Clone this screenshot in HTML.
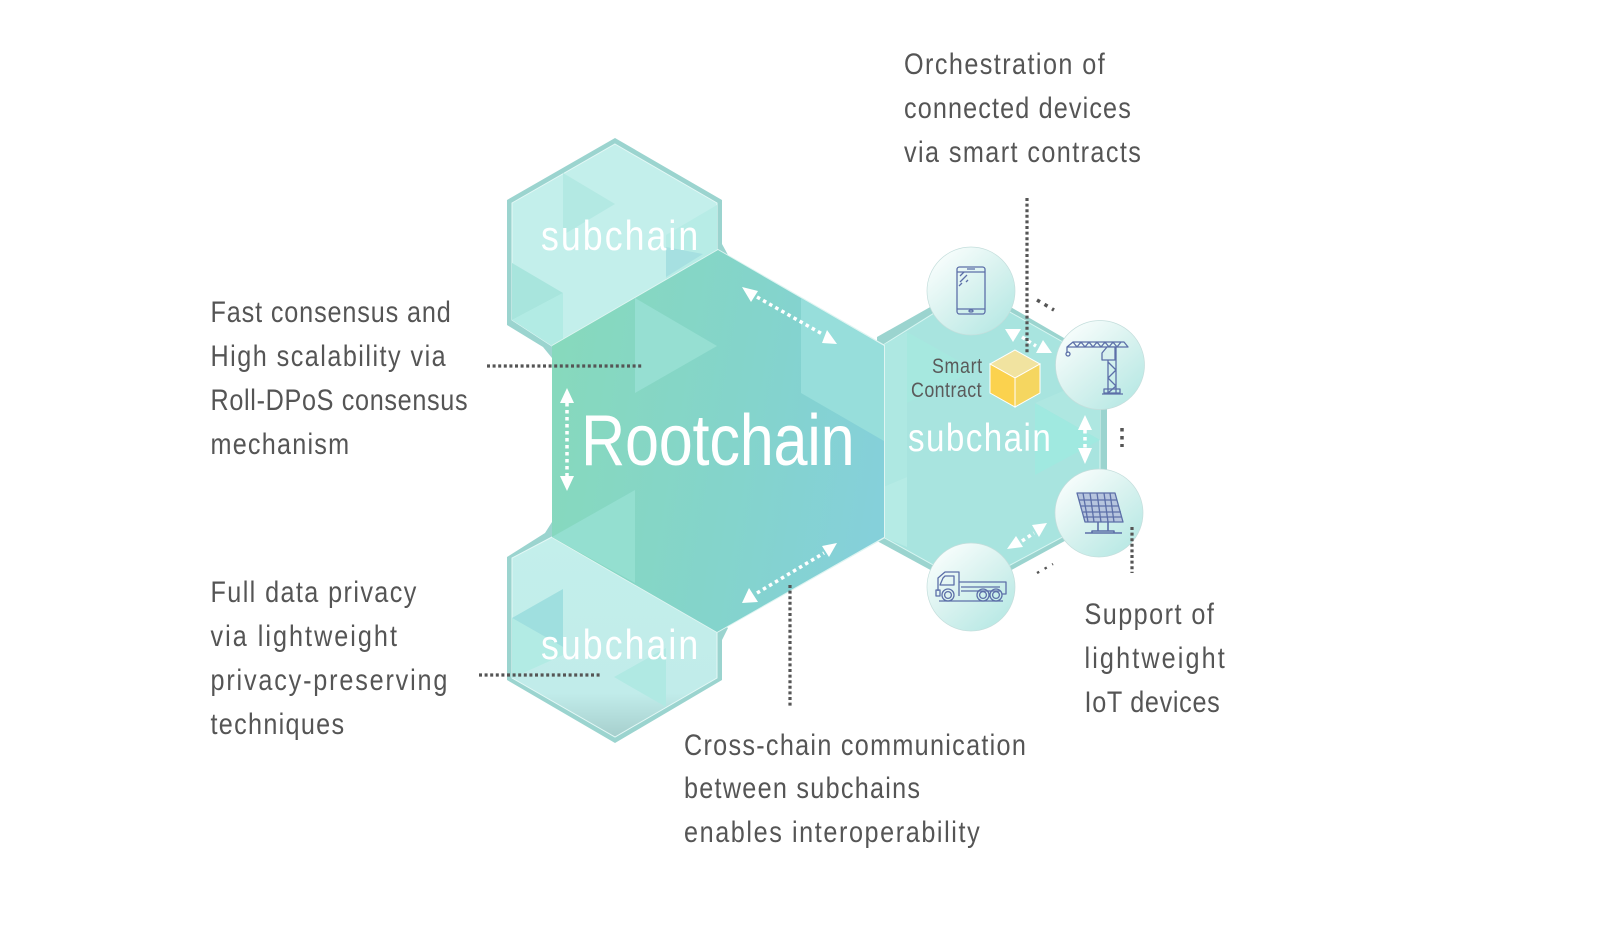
<!DOCTYPE html>
<html><head><meta charset="utf-8"><title>Rootchain diagram</title>
<style>
html,body{margin:0;padding:0;background:#fff}
svg{display:block}
text{font-family:"Liberation Sans",sans-serif}
.t{font-size:30px;fill:#555}
.w{fill:#fff}
.d{fill:none;stroke:#555;stroke-width:3.2;stroke-dasharray:3 2.6}
.a{fill:none;stroke:#fff;stroke-width:3.5;stroke-dasharray:3.5 3.5}
.i{fill:none;stroke:#5c6fa8;stroke-width:1.3;stroke-linejoin:round}
</style></head><body>
<svg width="1600" height="941" viewBox="0 0 1600 941" xmlns="http://www.w3.org/2000/svg">
<defs>
<linearGradient id="root" x1="0" y1="0.4" x2="1" y2="0.6"><stop offset="0" stop-color="#87d9bd"/><stop offset="0.55" stop-color="#84d4cb"/><stop offset="1" stop-color="#85d0da"/></linearGradient>
<linearGradient id="circ" x1="0.15" y1="0.1" x2="0.85" y2="0.9"><stop offset="0" stop-color="#f7fdfc"/><stop offset="0.5" stop-color="#d8f2ef"/><stop offset="1" stop-color="#b9e9e5"/></linearGradient>
<linearGradient id="shade" x1="0" y1="0" x2="0" y2="1"><stop offset="0" stop-color="#c3efeb"/><stop offset="0.78" stop-color="#c1ecea"/><stop offset="1" stop-color="#a6cfcd"/></linearGradient>
</defs>

<!-- top subchain -->
<polygon points="615,138 722,200 722,244 728,255 560,349 552,358 543,347 507,325 507,200" fill="#9bd4cf"/>
<polygon points="615,144 717,203 717,250 552,346 512,320 512,203" fill="#c3efeb" stroke="#e4f8f6" stroke-width="1"/>
<polygon points="563,173 615,204 563,235" fill="#b3e9e3"/>
<polygon points="512,263 563,293 512,320" fill="#a8e5dd"/>
<polygon points="512,320 563,293 563,340 552,346" fill="#b2ebe4"/>
<polygon points="666,235 717,205 717,250 666,279" fill="#b7ece6"/>
<polygon points="666,247 703,254 666,277" fill="#a6e0e1"/>

<!-- bottom subchain -->
<polygon points="552,522 545,533 507,557 507,680 615,743 722,680 722,640 728,628 717,620 560,525" fill="#9bd4cf"/>
<polygon points="552,537 717,632 717,678 615,737 512,678 512,558" fill="url(#shade)" stroke="#e4f8f6" stroke-width="1"/>
<polygon points="563,589 512,618 563,647" fill="#9fdfdf"/>
<polygon points="512,618 563,647 563,655 512,678" fill="#b2ebe4"/>
<polygon points="614,677 666,648 666,707" fill="#b0e9e3"/>

<!-- right subchain -->
<polygon points="971,284 1107,363 1107,518 971,592 877,541 877,337" fill="#9bd4cf"/>
<polygon points="971,290 1100,363 1100,517 971,586 883,537 883,345" fill="#a8e4df" stroke="#d8f6f2" stroke-width="1"/>
<polygon points="907,332 975,370 907,403" fill="#a6e8df"/>
<polygon points="883,345 907,332 907,477 883,487" fill="#aee8e2"/>
<polygon points="883,487 907,477 907,547 883,537" fill="#b5ebe5"/>
<polygon points="1035,403 1070,388 1100,405 1100,440" fill="#aee7e1"/>
<polygon points="1035,403 1100,440 1035,475" fill="#a0e9e0"/>

<!-- rootchain -->
<polygon points="718,249 885,345 885,538 717,633 552,538 552,345" fill="#dff5f2"/>
<polygon points="718,250 884,346 884,537 717,632 552,537 552,346" fill="url(#root)"/>
<polygon points="635,298 717,346 635,393" fill="#96dfd2"/>
<polygon points="801,298 884,346 884,441 801,393" fill="#97dedb"/>
<polygon points="635,490 635,583 552,537" fill="#94dfd0"/>

<!-- labels inside -->
<text class="w" transform="translate(581,465) scale(.85,1)" font-size="72" textLength="322" lengthAdjust="spacing">Rootchain</text>
<text class="w" transform="translate(541,250) scale(.85,1)" font-size="42" textLength="185" lengthAdjust="spacing">subchain</text>
<text class="w" transform="translate(541,659) scale(.85,1)" font-size="42" textLength="185" lengthAdjust="spacing">subchain</text>
<text class="w" transform="translate(908,451) scale(.85,1)" font-size="39" textLength="168" lengthAdjust="spacing">subchain</text>
<text transform="translate(932,373) scale(.85,1)" font-size="21" fill="#5a5a5a" textLength="59" lengthAdjust="spacing">Smart</text>
<text transform="translate(911,397) scale(.85,1)" font-size="21" fill="#5a5a5a" textLength="83" lengthAdjust="spacing">Contract</text>

<!-- cube -->
<polygon points="1015,350 1040,364 1015,378 990,364" fill="#f1e3a0" stroke="#fff" stroke-width="1"/>
<polygon points="990,364 1015,378 1015,407 990,393" fill="#fbd24e" stroke="#fff" stroke-width="1"/>
<polygon points="1040,364 1015,378 1015,407 1040,393" fill="#f5d660" stroke="#fff" stroke-width="1"/>

<!-- circles -->
<g fill="url(#circ)" stroke="#c4dedc" stroke-width="0.7">
<circle cx="971" cy="291" r="44"/><circle cx="1100" cy="365" r="44.5"/><circle cx="1099" cy="513" r="44"/><circle cx="971" cy="587" r="44"/>
</g>

<!-- phone -->
<g class="i">
<rect x="957" y="267" width="28" height="47" rx="2.5"/>
<path d="M957 272H985M957 309H985M967 269H975"/>
<ellipse cx="971" cy="311" rx="2" ry="1"/>
<path d="M960 276l4-4M960 282l7-7M966 282l2-2M959 286l3-3"/>
</g>
<!-- crane -->
<g class="i">
<path d="M1067 353V347H1128L1124 342H1073L1067 347M1073 342l4 5 4-5 4 5 4-5 4 5 4-5 4 5 4-5 4 5 4-5 4 5 4-5"/>
<circle cx="1068" cy="354" r="2"/>
<path d="M1108 360V393M1116 347V393M1108 362l8 8-8 8 8 8-8 7"/>
<path d="M1102 353L1107 347H1115V360H1102Z" fill="#d8f0ee"/>
<path d="M1104 389H1120V393H1104ZM1102 394H1123"/>
</g>
<!-- solar -->
<g class="i">
<path d="M1077 493H1115L1123 522H1085Z" fill="#b6c5de"/>
<path d="M1079 500H1117M1081 506H1119M1083 512H1121M1084 517H1122M1083 493l5 29M1090 493l4 29M1097 493l4 29M1104 493l4 29M1110 493l4 29"/>
<path d="M1098 522V531M1108 522V531M1092 531H1114V533H1092ZM1085 533H1122" stroke-width="1.6"/>
</g>
<!-- truck -->
<g class="i" stroke-width="1.4">
<path d="M938 591V578L945 572H959V596M959 582H1006V594H1002M961 587H1000M961 591H1000"/>
<path d="M943 578L940 585H954V576H945Z"/>
<rect x="936" y="590" width="4" height="6"/>
<circle cx="948" cy="595" r="6"/><circle cx="948" cy="595" r="3.4"/>
<circle cx="983" cy="595" r="6"/><circle cx="983" cy="595" r="3.4"/>
<circle cx="996" cy="595" r="6"/><circle cx="996" cy="595" r="3.4"/>
<path d="M939 601H1003"/>
</g>

<!-- white arrows -->
<g fill="#fff">
<polygon points="742,287 758,291 751,302"/><polygon points="837,344 827,330 822,343"/>
<polygon points="742,603 758,602 749,588"/><polygon points="837,543 822,546 829,557"/>
<polygon points="567,388 560,403 574,403"/><polygon points="567,491 560,476 574,476"/>
<polygon points="1085,415 1078,430 1092,430"/><polygon points="1085,464 1078,448 1092,448"/>
<polygon points="1005,329 1021,329 1013,342"/><polygon points="1036,353 1052,353 1043,340"/>
<polygon points="1007,549 1023,547 1016,536"/><polygon points="1047,523 1032,525 1039,537"/>
</g>
<path class="a" d="M757 297L824 335M757 593L824 553M567 403V476M1085 430V448M1022 337L1036 346M1022 541L1034 533"/>

<!-- dotted lines -->
<path class="d" d="M487 366H643M479 675H602M790 585V707M1027 198V353M1132 527V573"/>
<path class="d" style="stroke-width:3.5;stroke-dasharray:3.5 4.5" d="M1122 428V447"/>
<path class="d" style="stroke-width:3.5;stroke-dasharray:3.5 5.2" d="M1037 300L1054 310"/>
<path class="d" style="stroke-width:2.4;stroke-dasharray:2.5 6.2" d="M1037 573L1053 564"/>

<!-- text -->
<text class="t" transform="translate(210.5,322) scale(.84,1)" textLength="286" lengthAdjust="spacing">Fast consensus and</text>
<text class="t" transform="translate(210.5,366) scale(.84,1)" textLength="280" lengthAdjust="spacing">High scalability via</text>
<text class="t" transform="translate(210.5,410) scale(.84,1)" textLength="306" lengthAdjust="spacing">Roll-DPoS consensus</text>
<text class="t" transform="translate(210.5,454) scale(.84,1)" textLength="165" lengthAdjust="spacing">mechanism</text>

<text class="t" transform="translate(210.5,602) scale(.84,1)" textLength="245" lengthAdjust="spacing">Full data privacy</text>
<text class="t" transform="translate(210.5,646) scale(.84,1)" textLength="222" lengthAdjust="spacing">via lightweight</text>
<text class="t" transform="translate(210.5,690) scale(.84,1)" textLength="282" lengthAdjust="spacing">privacy-preserving</text>
<text class="t" transform="translate(210.5,734) scale(.84,1)" textLength="159" lengthAdjust="spacing">techniques</text>

<text class="t" transform="translate(904,74) scale(.84,1)" textLength="239" lengthAdjust="spacing">Orchestration of</text>
<text class="t" transform="translate(904,118) scale(.84,1)" textLength="270" lengthAdjust="spacing">connected devices</text>
<text class="t" transform="translate(904,162) scale(.84,1)" textLength="282" lengthAdjust="spacing">via smart contracts</text>

<text class="t" transform="translate(684,755) scale(.84,1)" textLength="407" lengthAdjust="spacing">Cross-chain communication</text>
<text class="t" transform="translate(684,798) scale(.84,1)" textLength="281" lengthAdjust="spacing">between subchains</text>
<text class="t" transform="translate(684,842) scale(.84,1)" textLength="352" lengthAdjust="spacing">enables interoperability</text>

<text class="t" transform="translate(1084.5,624) scale(.84,1)" textLength="154" lengthAdjust="spacing">Support of</text>
<text class="t" transform="translate(1084.5,668) scale(.84,1)" textLength="167" lengthAdjust="spacing">lightweight</text>
<text class="t" transform="translate(1084.5,712) scale(.84,1)" textLength="161" lengthAdjust="spacing">IoT devices</text>
</svg>
</body></html>
